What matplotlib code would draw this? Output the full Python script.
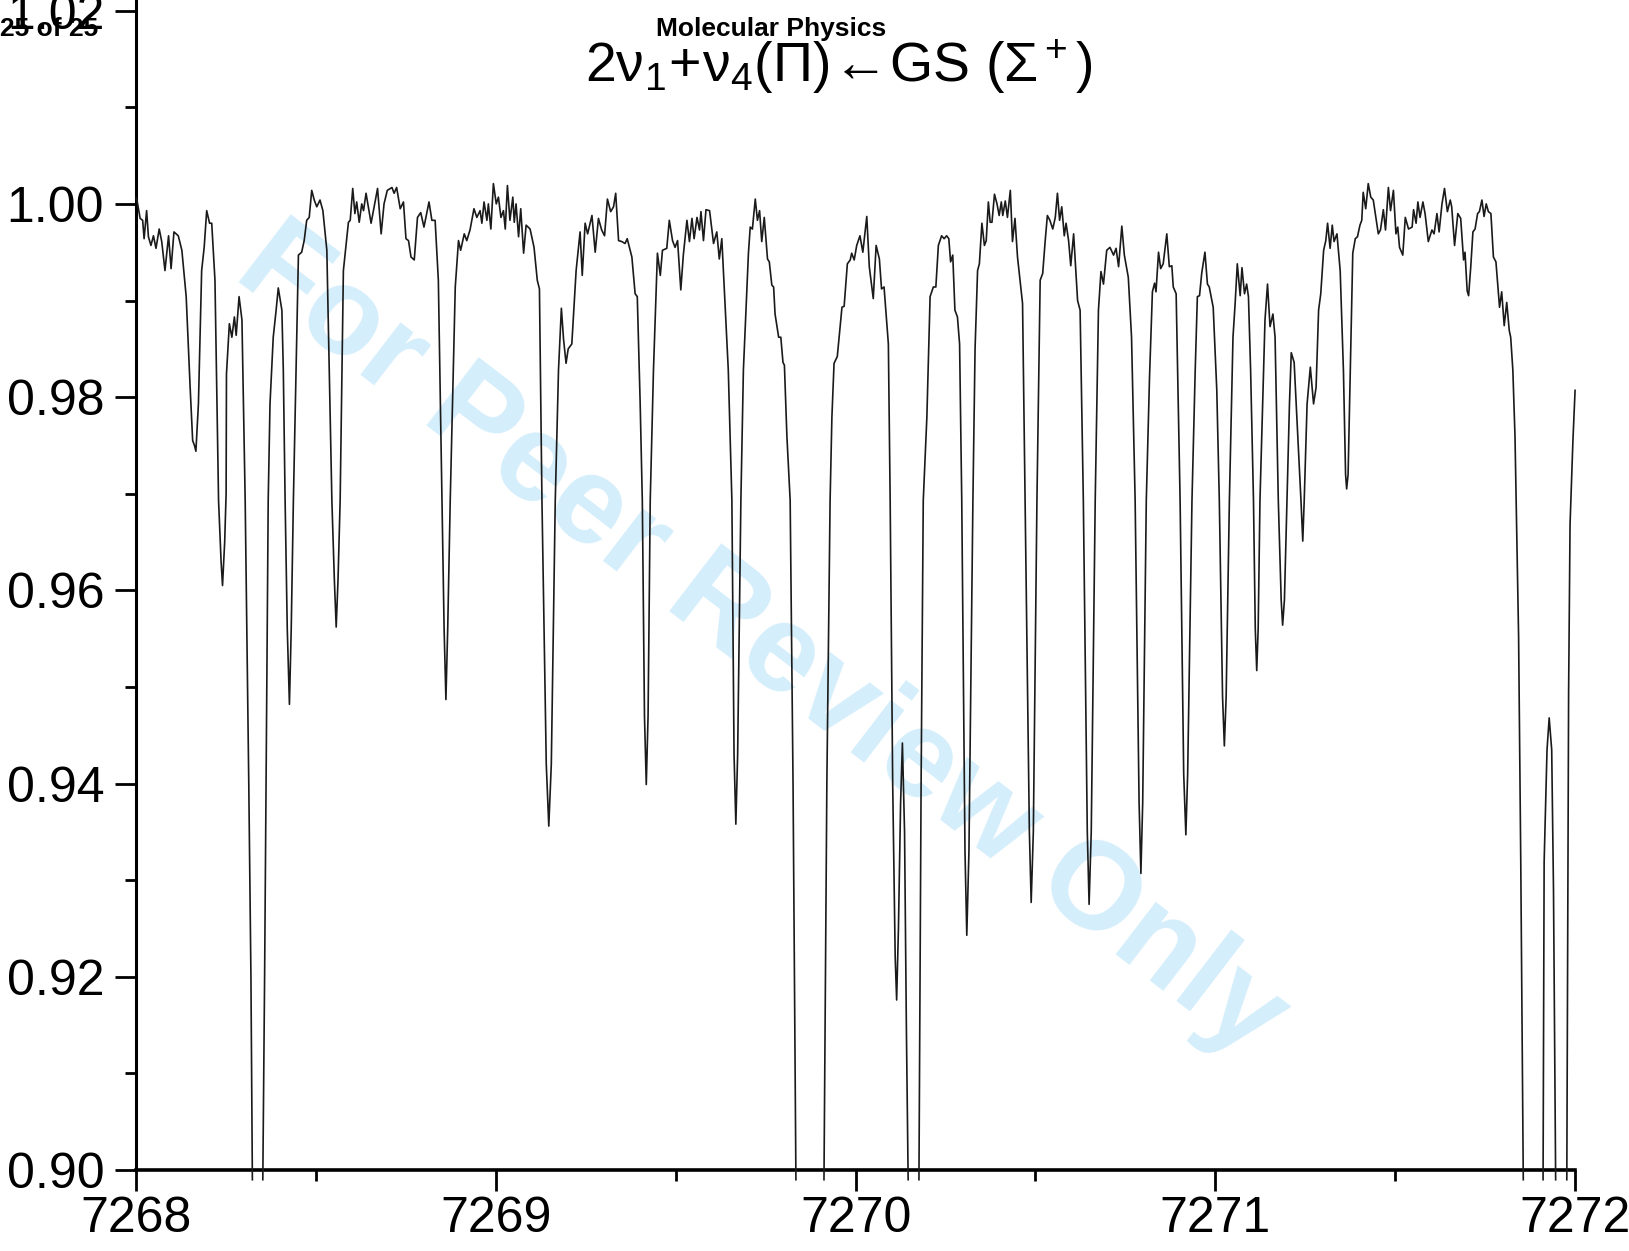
import numpy as np
import matplotlib
matplotlib.use("Agg")
import matplotlib.pyplot as plt
from matplotlib.ticker import FormatStrFormatter

# Trace of the transmission spectrum (wavenumber, transmittance).
# Deep lines run off the bottom of the frame, so the trace is split into pieces there.
piece_a = [
    (7268.000, 1.0006), (7268.003, 1.0002), (7268.011, 0.9985), (7268.018, 0.9983),
    (7268.022, 0.9964), (7268.029, 0.9993), (7268.034, 0.9966), (7268.041, 0.9957),
    (7268.048, 0.9967), (7268.055, 0.9954), (7268.064, 0.9974), (7268.071, 0.9961),
    (7268.080, 0.9931), (7268.090, 0.9967), (7268.097, 0.9933), (7268.105, 0.9971),
    (7268.117, 0.9967), (7268.127, 0.9952), (7268.139, 0.9904), (7268.150, 0.9810),
    (7268.157, 0.9755), (7268.162, 0.9750), (7268.166, 0.9744), (7268.173, 0.9793),
    (7268.182, 0.9931), (7268.189, 0.9955), (7268.196, 0.9993), (7268.204, 0.9980),
    (7268.210, 0.9980), (7268.219, 0.9921), (7268.229, 0.9693), (7268.236, 0.9630),
    (7268.240, 0.9605), (7268.246, 0.9650), (7268.250, 0.9700), (7268.251, 0.9824),
    (7268.259, 0.9876), (7268.266, 0.9862), (7268.273, 0.9883), (7268.278, 0.9864),
    (7268.286, 0.9904), (7268.294, 0.9880), (7268.303, 0.9693), (7268.313, 0.9400),
    (7268.319, 0.9200), (7268.323, 0.8990),
]

piece_b = [
    (7268.352, 0.8990), (7268.357, 0.9200), (7268.362, 0.9450), (7268.367, 0.9693),
    (7268.372, 0.9793), (7268.381, 0.9862), (7268.389, 0.9890), (7268.395, 0.9913),
    (7268.405, 0.9890), (7268.409, 0.9828), (7268.414, 0.9693), (7268.420, 0.9560),
    (7268.426, 0.9482), (7268.431, 0.9560), (7268.437, 0.9693), (7268.451, 0.9947),
    (7268.460, 0.9950), (7268.467, 0.9962), (7268.474, 0.9983), (7268.481, 0.9986),
    (7268.488, 1.0014), (7268.495, 1.0004), (7268.502, 0.9997), (7268.511, 1.0004),
    (7268.519, 0.9993), (7268.530, 0.9952), (7268.544, 0.9693), (7268.551, 0.9610),
    (7268.556, 0.9562), (7268.561, 0.9610), (7268.567, 0.9693), (7268.576, 0.9931),
    (7268.590, 0.9981), (7268.595, 0.9983), (7268.602, 1.0016), (7268.608, 0.9990),
    (7268.613, 1.0002), (7268.620, 0.9981), (7268.627, 1.0000), (7268.632, 0.9993),
    (7268.639, 1.0011), (7268.653, 0.9980), (7268.671, 1.0016), (7268.681, 0.9969),
    (7268.689, 1.0000), (7268.698, 1.0014), (7268.711, 1.0017), (7268.717, 1.0011),
    (7268.724, 1.0017), (7268.734, 0.9995), (7268.743, 1.0002), (7268.750, 0.9964),
    (7268.757, 0.9962), (7268.764, 0.9945), (7268.773, 0.9942), (7268.782, 0.9986),
    (7268.791, 0.9991), (7268.800, 0.9976), (7268.814, 1.0002), (7268.822, 0.9983),
    (7268.831, 0.9983), (7268.840, 0.9921), (7268.850, 0.9693), (7268.856, 0.9560),
    (7268.861, 0.9487), (7268.866, 0.9560), (7268.873, 0.9693), (7268.887, 0.9914),
    (7268.896, 0.9962), (7268.902, 0.9952), (7268.912, 0.9969), (7268.919, 0.9962),
    (7268.928, 0.9973), (7268.939, 0.9995), (7268.947, 0.9986), (7268.956, 0.9993),
    (7268.961, 0.9980), (7268.967, 1.0002), (7268.975, 0.9983), (7268.979, 1.0000),
    (7268.986, 0.9974), (7268.993, 1.0021), (7269.001, 1.0000), (7269.007, 1.0007),
    (7269.014, 0.9986), (7269.021, 0.9993), (7269.026, 0.9974), (7269.032, 1.0019),
    (7269.039, 0.9983), (7269.047, 1.0007), (7269.051, 0.9981), (7269.056, 1.0000),
    (7269.063, 0.9966), (7269.069, 0.9995), (7269.077, 0.9949), (7269.084, 0.9978),
    (7269.095, 0.9974), (7269.106, 0.9955), (7269.115, 0.9921), (7269.121, 0.9912),
    (7269.128, 0.9693), (7269.140, 0.9420), (7269.147, 0.9356), (7269.154, 0.9420),
    (7269.165, 0.9693), (7269.174, 0.9828), (7269.182, 0.9892), (7269.188, 0.9860),
    (7269.195, 0.9835), (7269.201, 0.9850), (7269.211, 0.9855), (7269.223, 0.9931),
    (7269.234, 0.9971), (7269.240, 0.9926), (7269.248, 0.9980), (7269.255, 0.9969),
    (7269.267, 0.9988), (7269.276, 0.9950), (7269.285, 0.9985), (7269.294, 0.9973),
    (7269.302, 0.9967), (7269.310, 1.0005), (7269.319, 0.9992), (7269.327, 0.9997),
    (7269.333, 1.0011), (7269.341, 0.9962), (7269.350, 0.9961), (7269.359, 0.9959),
    (7269.365, 0.9964), (7269.378, 0.9945), (7269.387, 0.9907), (7269.393, 0.9904),
    (7269.401, 0.9794), (7269.407, 0.9693), (7269.413, 0.9470), (7269.418, 0.9399),
    (7269.423, 0.9470), (7269.429, 0.9693), (7269.438, 0.9828), (7269.449, 0.9949),
    (7269.457, 0.9926), (7269.463, 0.9952), (7269.475, 0.9954), (7269.482, 0.9983),
    (7269.491, 0.9962), (7269.498, 0.9955), (7269.505, 0.9962), (7269.514, 0.9911),
    (7269.521, 0.9947), (7269.531, 0.9983), (7269.538, 0.9961), (7269.545, 0.9985),
    (7269.551, 0.9964), (7269.559, 0.9986), (7269.566, 0.9973), (7269.570, 0.9992),
    (7269.577, 0.9962), (7269.584, 0.9994), (7269.594, 0.9993), (7269.605, 0.9959),
    (7269.614, 0.9971), (7269.621, 0.9943), (7269.628, 0.9964), (7269.637, 0.9897),
    (7269.646, 0.9828), (7269.656, 0.9693), (7269.662, 0.9430), (7269.667, 0.9358),
    (7269.672, 0.9430), (7269.681, 0.9693), (7269.688, 0.9828), (7269.702, 0.9949),
    (7269.707, 0.9976), (7269.713, 0.9974), (7269.721, 1.0005), (7269.727, 0.9983),
    (7269.733, 0.9993), (7269.739, 0.9961), (7269.746, 0.9986), (7269.755, 0.9943),
    (7269.760, 0.9940), (7269.767, 0.9916), (7269.772, 0.9914), (7269.776, 0.9886),
    (7269.786, 0.9862), (7269.792, 0.9862), (7269.798, 0.9836), (7269.802, 0.9833),
    (7269.809, 0.9759), (7269.818, 0.9693), (7269.826, 0.9400), (7269.834, 0.8990),
]

piece_c = [
    (7269.912, 0.8990), (7269.920, 0.9400), (7269.929, 0.9693), (7269.934, 0.9779),
    (7269.940, 0.9835), (7269.949, 0.9842), (7269.962, 0.9893), (7269.968, 0.9894),
    (7269.977, 0.9938), (7269.985, 0.9942), (7269.989, 0.9949), (7269.996, 0.9942),
    (7270.003, 0.9957), (7270.012, 0.9967), (7270.020, 0.9950), (7270.031, 0.9987),
    (7270.038, 0.9935), (7270.049, 0.9902), (7270.057, 0.9957), (7270.066, 0.9943),
    (7270.072, 0.9912), (7270.079, 0.9914), (7270.091, 0.9855), (7270.096, 0.9693),
    (7270.103, 0.9400), (7270.110, 0.9220), (7270.114, 0.9176), (7270.119, 0.9250),
    (7270.125, 0.9380), (7270.130, 0.9442), (7270.136, 0.9350), (7270.141, 0.9150),
    (7270.146, 0.8990),
]

piece_d = [
    (7270.176, 0.8990), (7270.182, 0.9400), (7270.188, 0.9693), (7270.198, 0.9779),
    (7270.207, 0.9904), (7270.216, 0.9914), (7270.223, 0.9914), (7270.230, 0.9957),
    (7270.239, 0.9967), (7270.246, 0.9964), (7270.253, 0.9967), (7270.259, 0.9964),
    (7270.264, 0.9940), (7270.270, 0.9947), (7270.276, 0.9890), (7270.283, 0.9883),
    (7270.289, 0.9855), (7270.295, 0.9693), (7270.304, 0.9330), (7270.309, 0.9243),
    (7270.315, 0.9330), (7270.326, 0.9693), (7270.332, 0.9850), (7270.339, 0.9931),
    (7270.344, 0.9938), (7270.351, 0.9980), (7270.358, 0.9957), (7270.363, 0.9962),
    (7270.369, 1.0002), (7270.374, 0.9981), (7270.379, 0.9981), (7270.386, 1.0010),
    (7270.393, 1.0000), (7270.399, 0.9988), (7270.405, 1.0002), (7270.409, 0.9988),
    (7270.416, 1.0003), (7270.422, 0.9986), (7270.430, 1.0014), (7270.436, 0.9961),
    (7270.443, 0.9985), (7270.450, 0.9945), (7270.457, 0.9921), (7270.464, 0.9897),
    (7270.471, 0.9693), (7270.483, 0.9350), (7270.488, 0.9277), (7270.494, 0.9350),
    (7270.504, 0.9693), (7270.513, 0.9921), (7270.520, 0.9928), (7270.527, 0.9962),
    (7270.533, 0.9988), (7270.540, 0.9983), (7270.548, 0.9974), (7270.555, 0.9986),
    (7270.561, 1.0011), (7270.567, 0.9983), (7270.573, 0.9997), (7270.580, 0.9967),
    (7270.585, 0.9980), (7270.592, 0.9962), (7270.598, 0.9936), (7270.606, 0.9969),
    (7270.613, 0.9924), (7270.617, 0.9900), (7270.624, 0.9890), (7270.633, 0.9693),
    (7270.644, 0.9350), (7270.649, 0.9275), (7270.655, 0.9350), (7270.666, 0.9693),
    (7270.675, 0.9890), (7270.682, 0.9930), (7270.689, 0.9917), (7270.698, 0.9952),
    (7270.707, 0.9955), (7270.717, 0.9947), (7270.724, 0.9954), (7270.731, 0.9935),
    (7270.740, 0.9977), (7270.747, 0.9947), (7270.758, 0.9924), (7270.767, 0.9862),
    (7270.777, 0.9693), (7270.788, 0.9380), (7270.793, 0.9307), (7270.798, 0.9380),
    (7270.808, 0.9693), (7270.817, 0.9821), (7270.825, 0.9909), (7270.831, 0.9918),
    (7270.835, 0.9909), (7270.842, 0.9950), (7270.848, 0.9933), (7270.855, 0.9938),
    (7270.865, 0.9969), (7270.872, 0.9935), (7270.879, 0.9936), (7270.883, 0.9914),
    (7270.891, 0.9907), (7270.902, 0.9693), (7270.912, 0.9410), (7270.918, 0.9347),
    (7270.923, 0.9410), (7270.935, 0.9693), (7270.944, 0.9828), (7270.950, 0.9904),
    (7270.956, 0.9905), (7270.962, 0.9928), (7270.971, 0.9950), (7270.978, 0.9917),
    (7270.983, 0.9914), (7270.994, 0.9893), (7271.004, 0.9807), (7271.011, 0.9693),
    (7271.020, 0.9490), (7271.025, 0.9439), (7271.030, 0.9490), (7271.039, 0.9693),
    (7271.049, 0.9862), (7271.055, 0.9897), (7271.061, 0.9938), (7271.069, 0.9905),
    (7271.074, 0.9934), (7271.081, 0.9907), (7271.087, 0.9917), (7271.092, 0.9904),
    (7271.098, 0.9828), (7271.106, 0.9693), (7271.111, 0.9560), (7271.115, 0.9517),
    (7271.119, 0.9560), (7271.124, 0.9693), (7271.134, 0.9828), (7271.138, 0.9880),
    (7271.145, 0.9917), (7271.152, 0.9873), (7271.160, 0.9886), (7271.166, 0.9862),
    (7271.175, 0.9693), (7271.183, 0.9590), (7271.187, 0.9564), (7271.192, 0.9590),
    (7271.199, 0.9693), (7271.206, 0.9793), (7271.211, 0.9846), (7271.219, 0.9836),
    (7271.227, 0.9776), (7271.238, 0.9693), (7271.243, 0.9651), (7271.247, 0.9693),
    (7271.255, 0.9793), (7271.264, 0.9831), (7271.273, 0.9793), (7271.280, 0.9810),
    (7271.287, 0.9890), (7271.293, 0.9907), (7271.301, 0.9952), (7271.307, 0.9962),
    (7271.312, 0.9980), (7271.319, 0.9954), (7271.325, 0.9978), (7271.330, 0.9961),
    (7271.338, 0.9969), (7271.347, 0.9931), (7271.356, 0.9828), (7271.362, 0.9720),
    (7271.365, 0.9705), (7271.369, 0.9720), (7271.375, 0.9828), (7271.382, 0.9949),
    (7271.389, 0.9964), (7271.395, 0.9966), (7271.402, 0.9978), (7271.407, 0.9983),
    (7271.411, 1.0012), (7271.418, 0.9995), (7271.425, 1.0021), (7271.432, 1.0007),
    (7271.439, 1.0004), (7271.453, 0.9969), (7271.459, 0.9973), (7271.467, 0.9994),
    (7271.473, 0.9973), (7271.481, 1.0017), (7271.487, 0.9993), (7271.495, 1.0014),
    (7271.502, 0.9969), (7271.507, 0.9976), (7271.512, 0.9955), (7271.521, 0.9947),
    (7271.528, 0.9986), (7271.537, 0.9974), (7271.547, 0.9976), (7271.551, 0.9994),
    (7271.558, 0.9980), (7271.563, 1.0002), (7271.569, 0.9986), (7271.577, 1.0002),
    (7271.583, 0.9990), (7271.592, 0.9961), (7271.602, 0.9973), (7271.608, 0.9969),
    (7271.616, 0.9990), (7271.622, 0.9971), (7271.630, 1.0000), (7271.637, 1.0016),
    (7271.645, 0.9992), (7271.653, 1.0004), (7271.657, 0.9997), (7271.665, 0.9957),
    (7271.674, 0.9990), (7271.682, 0.9985), (7271.690, 0.9942), (7271.694, 0.9950),
    (7271.700, 0.9910), (7271.704, 0.9905), (7271.710, 0.9935), (7271.716, 0.9971),
    (7271.722, 0.9974), (7271.729, 0.9990), (7271.734, 0.9992), (7271.741, 1.0004),
    (7271.747, 0.9987), (7271.753, 1.0000), (7271.759, 0.9992), (7271.766, 0.9990),
    (7271.773, 0.9945), (7271.780, 0.9940), (7271.790, 0.9893), (7271.796, 0.9909),
    (7271.803, 0.9874), (7271.810, 0.9898), (7271.817, 0.9869), (7271.821, 0.9862),
    (7271.827, 0.9828), (7271.833, 0.9759), (7271.843, 0.9552), (7271.849, 0.9319),
    (7271.856, 0.8990),
]

piece_e = [
    (7271.911, 0.8990), (7271.914, 0.9319), (7271.922, 0.9435), (7271.928, 0.9468),
    (7271.935, 0.9435), (7271.940, 0.9290), (7271.946, 0.8990),
]

piece_f = [
    (7271.977, 0.8990), (7271.982, 0.9494), (7271.986, 0.9668), (7271.994, 0.9755),
    (7272.000, 0.9807),
]

pieces = [piece_a, piece_b, piece_c, piece_d, piece_e, piece_f]

x_major = [7268, 7269, 7270, 7271, 7272]
x_minor = [7268.5, 7269.5, 7270.5, 7271.5]
y_major = [0.90, 0.92, 0.94, 0.96, 0.98, 1.00, 1.02]
y_minor = [0.91, 0.93, 0.95, 0.97, 0.99, 1.01]

title = r"$2\nu_1\!+\!\nu_4(\Pi)\!\leftarrow\!\mathrm{GS}\ (\Sigma^+)$"
journal = "Molecular Physics"
page = "25 of 25"
watermark = "For Peer Review Only"

plt.rcParams["font.family"] = ["Liberation Sans", "DejaVu Sans"]
plt.rcParams["mathtext.fontset"] = "custom"
plt.rcParams["mathtext.rm"] = "Liberation Sans"
plt.rcParams["mathtext.it"] = "Liberation Sans"
plt.rcParams["mathtext.default"] = "regular"

fig = plt.figure(figsize=(16.29, 12.51), dpi=100)
ax = fig.add_axes([0.0836, 0.0647, 0.8833, 0.9345])
ax.patch.set_alpha(0)

# spectrum, split where lines leave the frame
for piece in pieces:
    wn = [p[0] for p in piece]
    tr = [p[1] for p in piece]
    ax.plot(wn, tr, color="#1a1a1a", linewidth=1.2, clip_on=False, zorder=3)

ax.set_xlim(7268, 7272)
ax.set_ylim(0.90, 1.021)
ax.spines["top"].set_visible(False)
ax.spines["right"].set_visible(False)
ax.spines["left"].set_linewidth(2.2)
ax.spines["bottom"].set_linewidth(2.6)

ax.set_xticks(x_major)
ax.set_xticks(x_minor, minor=True)
ax.set_yticks(y_major)
ax.set_yticks(y_minor, minor=True)
ax.yaxis.set_major_formatter(FormatStrFormatter("%.2f"))
ax.tick_params(which="major", direction="out", length=15, width=2, labelsize=36)
ax.tick_params(which="minor", direction="out", length=8, width=2)
ax.tick_params(axis="x", which="major", pad=4)
ax.tick_params(axis="y", which="major", pad=8)

# headers and title
fig.text(0.0, 0.977, page, fontsize=19, fontweight="bold", ha="left", va="center")
fig.text(0.4733, 0.977, journal, fontsize=19, fontweight="bold", ha="center", va="center")
fig.text(0.515, 0.947, title, fontsize=40, ha="center", va="center")

# watermark behind the trace
fig.text(0.467, 0.487, watermark, fontsize=90, fontweight="bold", color="#d4eefb",
         rotation=-37.5, ha="center", va="center", rotation_mode="anchor", zorder=-1)

fig.savefig("out.png", dpi=100)
